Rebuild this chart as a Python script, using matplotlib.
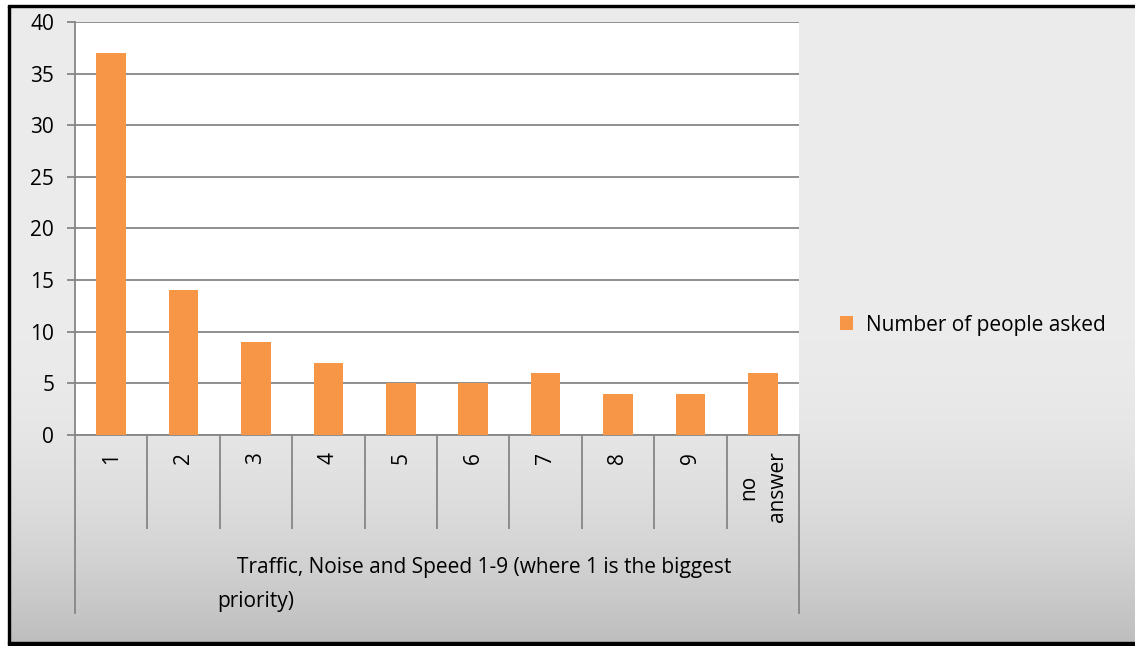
"""Survey priority chart: traffic, noise and speed ranking."""

import matplotlib
matplotlib.use("Agg")
import matplotlib.pyplot as plt
import numpy as np
from matplotlib.patches import Rectangle
from matplotlib.transforms import blended_transform_factory

categories = ["1", "2", "3", "4", "5", "6", "7", "8", "9", "no\nanswer"]
people_asked = [37, 14, 9, 7, 5, 5, 6, 4, 4, 6]
yticks = [0, 5, 10, 15, 20, 25, 30, 35, 40]
series_name = "Number of people asked"
group_line1 = "Traffic, Noise and Speed 1-9 (where 1 is the biggest"
group_line2 = "priority)"

W, H = 1135, 646
GRID = "#868686"
ORANGE = "#f79646"

plt.rcParams["font.family"] = ["Open Sans", "DejaVu Sans"]
plt.rcParams["font.size"] = 15

fig = plt.figure(figsize=(W / 100, H / 100), dpi=100)


def px(x0, y0, x1, y1):
    """Pixel box (top-left origin) to figure fraction rect."""
    return [x0 / W, 1 - y1 / H, (x1 - x0) / W, (y1 - y0) / H]


# background with vertical gradient, darker toward the bottom
bg = fig.add_axes(px(9, 6, 1135, 643))
bg.set_axis_off()
t = np.linspace(0, 1, 256)
shade = np.where(t < 0.5, 0.922, 0.922 - 0.178 * ((t - 0.5) / 0.5) ** 2)
img = np.repeat(shade[:, None, None], 3, axis=2).repeat(4, axis=1)
bg.imshow(img, aspect="auto", extent=[0, 1, 0, 1])
bg.set_xlim(0, 1)
bg.set_ylim(0, 1)

# black frame: top and left thin, bottom heavy
fig.patches.append(Rectangle((8 / W, 1 - 643 / H), 2 / W, 637 / H,
                             transform=fig.transFigure, color="black"))
fig.patches.append(Rectangle((8 / W, 1 - 7 / H), 1127 / W, 2 / H,
                             transform=fig.transFigure, color="black"))
fig.patches.append(Rectangle((8 / W, 0), 1127 / W, 4 / H,
                             transform=fig.transFigure, color="black"))

ax = fig.add_axes(px(75, 22, 799, 435))
ax.set_facecolor("white")
x = np.arange(len(categories))
bars = ax.bar(x, people_asked, width=0.41, color=ORANGE, label=series_name,
              zorder=3)
ax.set_xlim(-0.5, len(categories) - 0.5)
ax.set_ylim(0, 40)
ax.set_yticks(yticks)
ax.yaxis.grid(True, color=GRID, linewidth=1.3)
ax.set_axisbelow(True)
for side in ("top", "right"):
    ax.spines[side].set_visible(False)
for side in ("left", "bottom"):
    ax.spines[side].set_color(GRID)
    ax.spines[side].set_linewidth(1.3)
ax.tick_params(axis="y", length=6, width=1.3, color=GRID, pad=9)

ax.set_xticks(x)
ax.set_xticklabels(categories, rotation=90, va="top", ha="center",
                   multialignment="center", linespacing=1.5)
ax.tick_params(axis="x", which="major", length=0, pad=12)
ax.set_xticks(np.arange(0.5, len(categories) - 1, 1), minor=True)
ax.tick_params(axis="x", which="minor", length=68, width=1.3, color=GRID)

trans = blended_transform_factory(ax.transData, ax.transAxes)
for xb in (-0.5, len(categories) - 0.5):
    ax.plot([xb, xb], [0, -(613 - 435) / 413], color=GRID, linewidth=1.3,
            transform=trans, clip_on=False)

fig.text(237 / W, 1 - 568 / H, group_line1, ha="left", va="center")
fig.text(217 / W, 1 - 601 / H, group_line2, ha="left", va="center")

fig.legend(handles=[bars], labels=[series_name], loc="center left",
           bbox_to_anchor=(821 / W, 1 - 325 / H), frameon=False,
           handlelength=0.65, handleheight=0.65, handletextpad=0.6)

fig.savefig("out.png", dpi=100)
